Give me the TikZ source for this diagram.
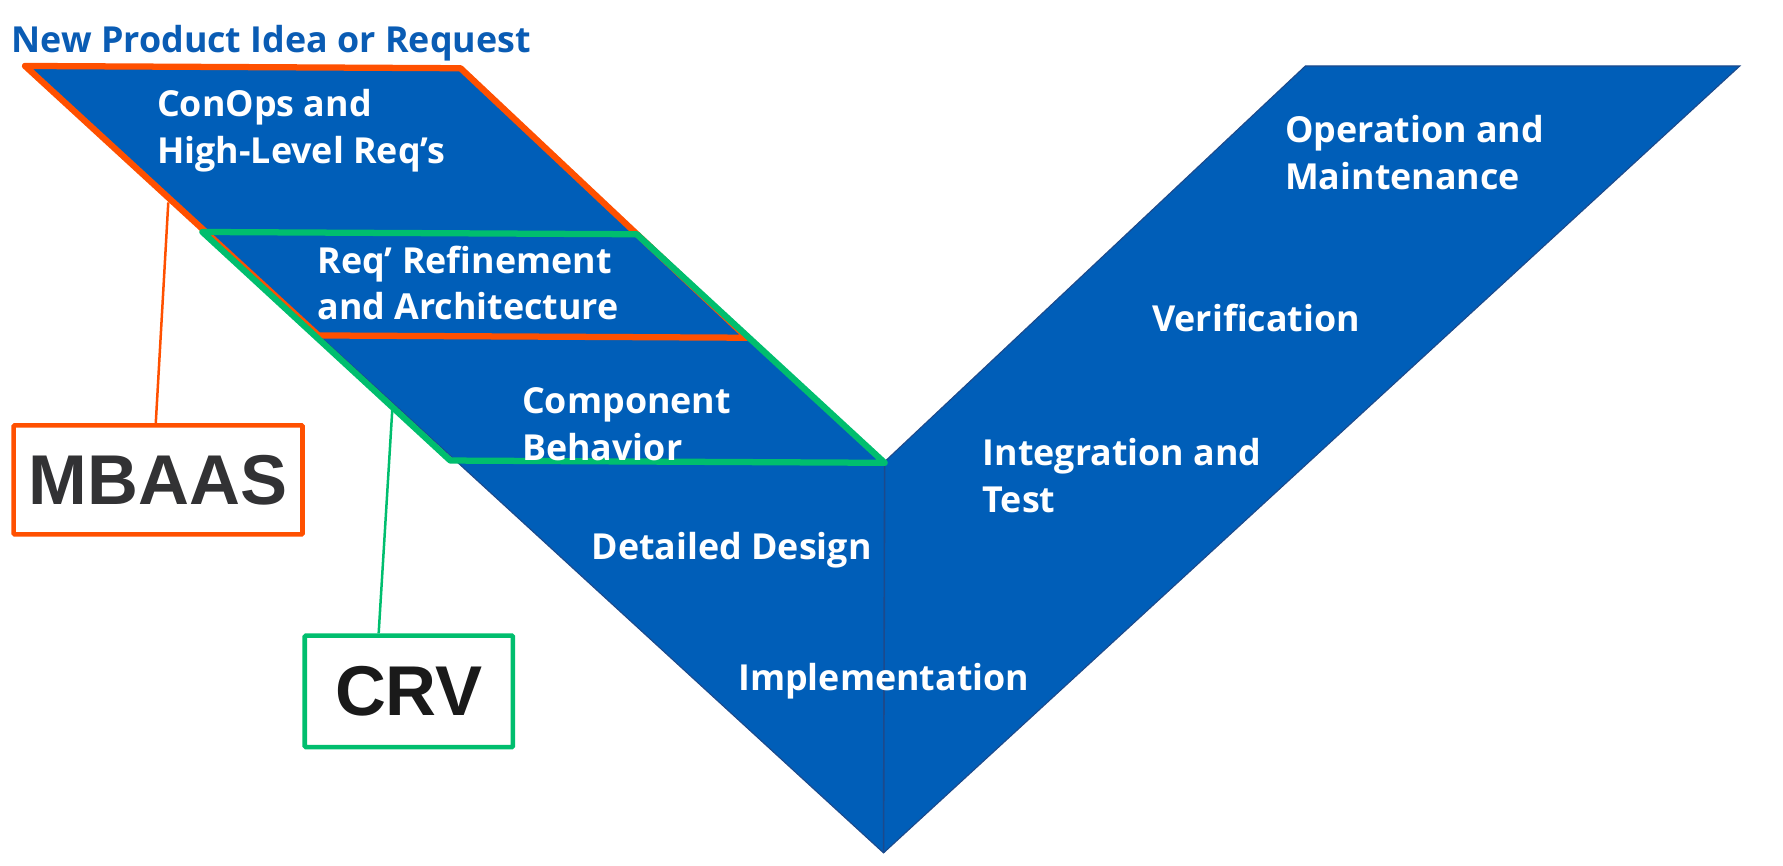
\documentclass[tikz,border=0pt]{standalone}
\usepackage{fontspec}
\setmainfont{Open Sans}
\newfontfamily\arialfont{Liberation Sans}
\definecolor{vblue}{RGB}{0,94,184}
\definecolor{vedge}{RGB}{28,74,140}
\definecolor{vorange}{RGB}{255,80,0}
\definecolor{vgreen}{RGB}{0,190,110}
\definecolor{titleblue}{RGB}{10,92,180}
\definecolor{mbgray}{RGB}{50,50,52}
\definecolor{crvblack}{RGB}{26,26,26}
\begin{document}
\begin{tikzpicture}[x=1pt,y=-1pt,
  phase/.style={text=white, font=\bfseries\fontsize{31.5}{41}\selectfont, align=left, inner sep=0, anchor=west},
  tagbox/.style={draw=#1, line width=4pt, rounded corners=1pt, fill=white, inner sep=0},
  outline/.style={draw=#1, line width=5.5pt, line join=round},
  leader/.style={draw=#1, line width=2.2pt}]
\useasboundingbox (0,0) rectangle (1568,761);
% V shape corners
\coordinate (tl) at (22,58);
\coordinate (tr) at (405,60);
\coordinate (inner) at (778,406);
\coordinate (rl) at (1148,58);
\coordinate (rr) at (1530,58);
\coordinate (bot) at (777,750);
\fill[vblue, draw=vedge, line width=1pt, line join=miter] (tl) -- (tr) -- (inner) -- (rl) -- (rr) -- (bot) -- cycle;
\draw[vedge, line width=1.4pt] (inner) -- (bot);
% orange and green outlines
\coordinate (o1) at (22,58);
\coordinate (o2) at (405,60);
\coordinate (o3) at (657,297);
\coordinate (o4) at (280,295);
\coordinate (g1) at (178,204);
\coordinate (g2) at (560,206);
\coordinate (g3) at (778,407);
\coordinate (g4) at (396,405);
\draw[outline=vorange] (o1) -- (o2) -- (o3) -- (o4) -- cycle;
\draw[outline=vgreen] (g1) -- (g2) -- (g3) -- (g4) -- cycle;
% title
\node[text=titleblue, font=\bfseries\fontsize{31.5}{36}\selectfont, inner sep=0, anchor=west] (title) at (10,38) {New Product Idea or Request};
% phase labels
\node[phase] (conops) at (138,115) {ConOps and\\High-Level Req’s};
\node[phase] (refine) at (279,249) {Req’ Refinement\\and Architecture};
\node[phase] (comp) at (459,373) {Component\\Behavior};
\node[phase] (detail) at (520,484) {Detailed Design};
\node[phase] (impl) at (649,599) {Implementation};
\node[phase] (integ) at (864,418) {Integration and\\Test};
\node[phase] (verif) at (1013,280) {Verification};
\node[phase] (oper) at (1130,134) {Operation and\\Maintenance};
% tag boxes
\node[tagbox=vorange, minimum width=254, minimum height=96, text=mbgray, font=\arialfont\bfseries\fontsize{62}{62}\selectfont] (mbaas) at (139,422) {MBAAS};
\node[tagbox=vgreen, minimum width=183, minimum height=98, text=crvblack, font=\arialfont\bfseries\fontsize{62}{62}\selectfont] (crv) at (359.5,608) {CRV};
% leader lines
\coordinate (oa) at (148,178);
\coordinate (ga) at (345,360);
\draw[leader=vorange] (oa) -- ([xshift=-2pt]mbaas.north);
\draw[leader=vgreen] (ga) -- ([xshift=-26.5pt]crv.north);
\end{tikzpicture}
\end{document}
